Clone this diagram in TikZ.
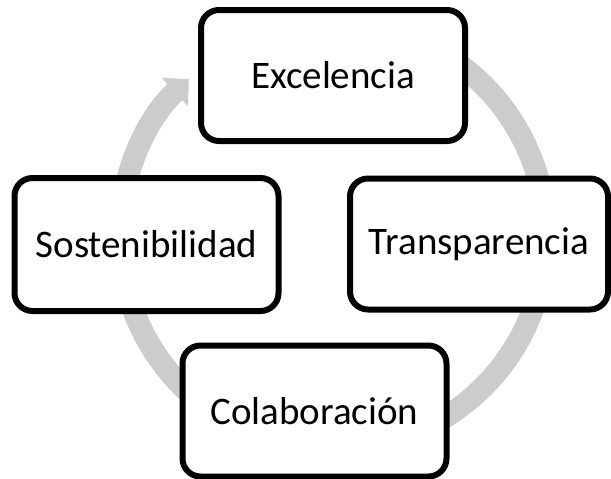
\documentclass[tikz,border=0pt]{standalone}
\usepackage{fontspec}
\setmainfont{Carlito}
\usetikzlibrary{arrows.meta}
\definecolor{ringgray}{RGB}{204,204,204}
\begin{document}
\begin{tikzpicture}[x=1pt, y=1pt,
  valbox/.style={draw, line width=6pt, rounded corners=18pt, fill=white,
    minimum width=264pt, minimum height=131pt, inner sep=0pt,
    font=\fontsize{39}{41}\selectfont}]
\useasboundingbox (0,0) rectangle (611,-479);
% ring behind the boxes
\coordinate (ringc) at (333,-236);
\draw [ringgray, line width=22pt, -{Triangle[width=38pt, length=19pt]}]
  (ringc) ++(60:213) arc[start angle=60, end angle=-227.4, radius=213];
% the four values
\node [valbox] (excelencia) at (333,-75.5) {Excelencia};
\node [valbox, minimum width=258pt] (transparencia) at (479,-244) {Transparencia};
\node [valbox] (colaboracion) at (314.5,-411) {Colaboración};
\node [valbox, minimum height=133pt] (sostenibilidad) at (146.5,-244.5) {Sostenibilidad};
\end{tikzpicture}
\end{document}
